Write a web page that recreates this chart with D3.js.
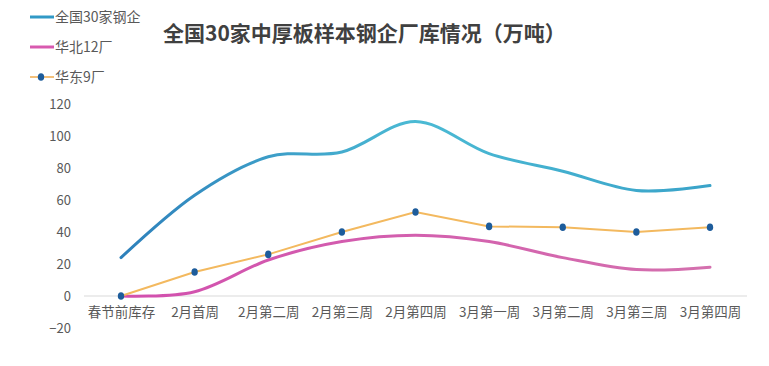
<!DOCTYPE html>
<html><head><meta charset="utf-8">
<script src="https://cdn.jsdelivr.net/npm/d3@7"></script>
<style>body{margin:0;background:#fff}svg{display:block}text{font-family:"Noto Sans CJK SC","Microsoft YaHei",sans-serif}</style>
</head><body><svg id="c" width="769" height="366"></svg>
<script>
const categories = ["春节前库存","2月首周","2月第二周","2月第三周","2月第四周","3月第一周","3月第二周","3月第三周","3月第四周"];
const national30 = [24, 63, 87, 90, 109, 89, 78, 66, 69];
const north12 = [0, 2.7, 22.5, 34, 38, 34, 24, 16.5, 18];
const east9 = [0, 15, 26, 40, 52.5, 43.5, 43, 40, 43];
const yTicks = [-20, 0, 20, 40, 60, 80, 100, 120];
const seriesNames = ["全国30家钢企","华北12厂","华东9厂"];
const titleText = "全国30家中厚板样本钢企厂库情况（万吨）";

const svg = d3.select("#c");
const defs = svg.append("defs");
const x = d3.scalePoint().domain(categories).range([121, 710]);
const y = d3.scaleLinear().domain([-20, 120]).range([328, 104]);

const gb = defs.append("linearGradient").attr("id","gb").attr("gradientUnits","userSpaceOnUse")
  .attr("x1",121).attr("x2",710).attr("y1",0).attr("y2",0);
gb.append("stop").attr("offset","0").attr("stop-color","#2d80bb");
gb.append("stop").attr("offset","0.5").attr("stop-color","#4bbad4");
gb.append("stop").attr("offset","1").attr("stop-color","#3aa3c9");
const gp = defs.append("linearGradient").attr("id","gp").attr("gradientUnits","userSpaceOnUse")
  .attr("x1",121).attr("x2",710).attr("y1",0).attr("y2",0);
gp.append("stop").attr("offset","0").attr("stop-color","#d24fae");
gp.append("stop").attr("offset","1").attr("stop-color","#d470ae");

const yAxis = d3.axisLeft(y).tickValues(yTicks).tickSize(0).tickPadding(0);
const ya = svg.append("g").attr("transform","translate(71,0)").call(yAxis);
ya.select(".domain").remove();
ya.selectAll("text").attr("font-size",13).attr("fill","#595959").attr("font-family",'"Noto Sans CJK SC",sans-serif');

svg.append("line").attr("x1",84).attr("x2",747).attr("y1",y(0)).attr("y2",y(0)).attr("stroke","#d9d9d9").attr("stroke-width",1);

const xAxis = d3.axisBottom(x).tickSize(0).tickPadding(0);
const xa = svg.append("g").attr("transform",`translate(0,${y(0)+11})`).call(xAxis);
xa.select(".domain").remove();
xa.selectAll("text").attr("font-size",13.5).attr("fill","#595959").attr("font-family",'"Noto Sans CJK SC",sans-serif');

const smooth = d3.line().x((d,i)=>x(categories[i])).y(d=>y(d)).curve(d3.curveCatmullRom.alpha(0));
const straight = d3.line().x((d,i)=>x(categories[i])).y(d=>y(d));

svg.append("path").attr("d",smooth(national30)).attr("fill","none").attr("stroke","url(#gb)").attr("stroke-width",3).attr("stroke-linecap","round");
svg.append("path").attr("d",smooth(north12)).attr("fill","none").attr("stroke","url(#gp)").attr("stroke-width",3).attr("stroke-linecap","round");
svg.append("path").attr("d",straight(east9)).attr("fill","none").attr("stroke","#f3b95f").attr("stroke-width",2);
svg.selectAll("ellipse.d").data(east9).enter().append("ellipse").attr("class","d")
  .attr("cx",(d,i)=>x(categories[i])).attr("cy",d=>y(d)).attr("rx",3.2).attr("ry",3.8).attr("fill","#1d5c9b");

const legendColors = ["#3199c6","#d85aaf","#f3c07a"];
const ly = [17, 47, 77];
seriesNames.forEach((n,i)=>{
  svg.append("line").attr("x1",30).attr("x2",54).attr("y1",ly[i]).attr("y2",ly[i]).attr("stroke",legendColors[i]).attr("stroke-width",i===2?2:3);
  if(i===2) svg.append("ellipse").attr("cx",41).attr("cy",ly[i]).attr("rx",3.2).attr("ry",3.8).attr("fill","#1d5c9b");
  svg.append("text").attr("x",55).attr("y",ly[i]).attr("dy","0.35em").attr("font-size",14).attr("fill","#595959").text(n);
});

svg.append("text").attr("x",163).attr("y",34).attr("dy","0.35em").attr("font-size",21).attr("font-weight","bold").attr("fill","#404040").text(titleText);
</script></body></html>
